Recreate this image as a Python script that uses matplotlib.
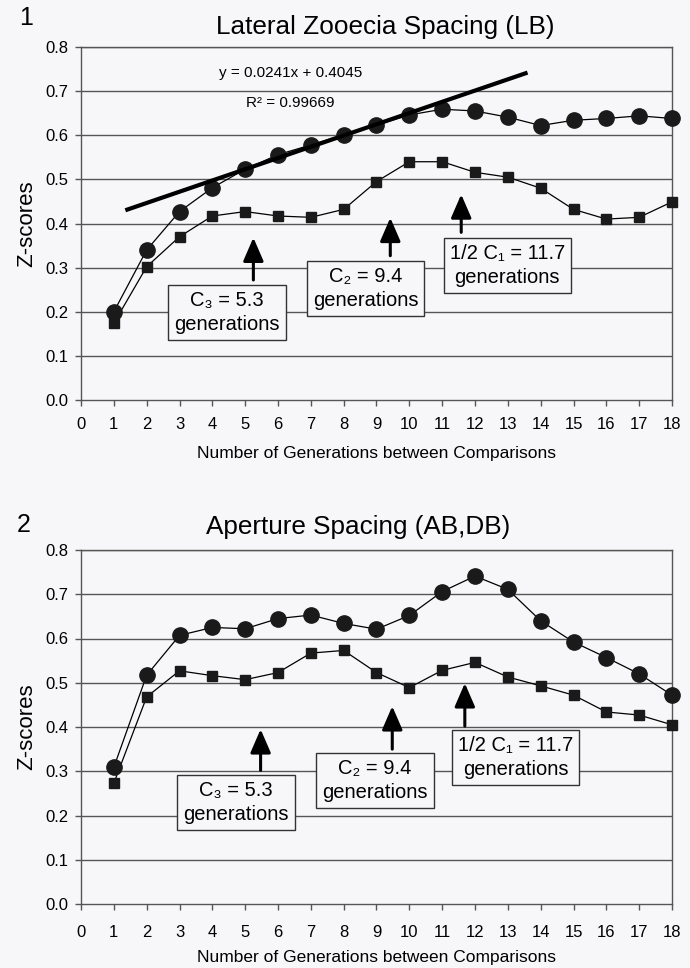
import matplotlib
matplotlib.use("Agg")
import matplotlib.pyplot as plt
from matplotlib.ticker import FixedLocator, FormatStrFormatter

plt.rcParams['font.family'] = ['Liberation Sans', 'DejaVu Sans']

generations = list(range(1, 19))
x_ticks = list(range(0, 19))
y_ticks = [0.0, 0.1, 0.2, 0.3, 0.4, 0.5, 0.6, 0.7, 0.8]

# Panel 1: Lateral Zooecia Spacing (LB)
lb_circles = [0.200, 0.340, 0.427, 0.481, 0.523, 0.556, 0.578, 0.601, 0.623,
              0.646, 0.659, 0.655, 0.641, 0.622, 0.634, 0.638, 0.644, 0.638]
lb_squares = [0.174, 0.302, 0.370, 0.417, 0.427, 0.417, 0.414, 0.432, 0.495,
              0.540, 0.540, 0.516, 0.505, 0.480, 0.432, 0.410, 0.414, 0.449]
trend_x = [1.35, 13.6]
trend_y = [0.430, 0.742]
trend_eq = "y = 0.0241x + 0.4045"
trend_r2 = "R² = 0.99669"

# Panel 2: Aperture Spacing (AB,DB)
ap_circles = [0.309, 0.517, 0.607, 0.625, 0.622, 0.645, 0.653, 0.634, 0.621,
              0.652, 0.706, 0.741, 0.711, 0.640, 0.592, 0.557, 0.520, 0.472]
ap_squares = [0.273, 0.468, 0.527, 0.516, 0.507, 0.523, 0.567, 0.573, 0.523,
              0.489, 0.528, 0.546, 0.513, 0.493, 0.472, 0.434, 0.427, 0.405]

box_texts = ["C\u2083 = 5.3\ngenerations", "C\u2082 = 9.4\ngenerations",
             "1/2 C\u2081 = 11.7\ngenerations"]

# annotation placements: (box_x, box_y, arrow_x, arrow_base_y, arrow_tip_y)
p1_notes = [(4.45, 0.198, 5.25, 0.272, 0.368),
            (8.67, 0.252, 9.42, 0.327, 0.413),
            (12.98, 0.305, 11.58, 0.380, 0.466)]
p2_notes = [(4.72, 0.230, 5.47, 0.302, 0.395),
            (8.95, 0.279, 9.48, 0.350, 0.447),
            (13.24, 0.331, 11.69, 0.402, 0.499)]

fig = plt.figure(figsize=(6.9, 9.68), dpi=100)
bg = '#f7f7f9'
fig.patch.set_facecolor(bg)

ax1 = fig.add_axes([81/690, 1-400/968, 591/690, 353/968])
ax2 = fig.add_axes([81/690, 1-904/968, 591/690, 354/968])

grid_c = '#555555'

def panel(ax, circ, sq, notes, xpad, lpad):
    ax.set_facecolor(bg)
    ax.set_xlim(0, 18)
    ax.set_ylim(0, 0.8)
    for yv in y_ticks[1:]:
        ax.axhline(yv, color=grid_c, lw=1.0, zorder=1)
    ax.plot(generations, sq, color='black', lw=0.9, marker='s', ms=7.3,
            mfc='#1a1a1a', mec='#1a1a1a', zorder=3, clip_on=False)
    ax.plot(generations, circ, color='black', lw=0.9, marker='o', ms=11,
            mfc='#1a1a1a', mec='#1a1a1a', zorder=4, clip_on=False)
    ax.xaxis.set_major_locator(FixedLocator(x_ticks))
    ax.yaxis.set_major_locator(FixedLocator(y_ticks))
    ax.yaxis.set_major_formatter(FormatStrFormatter('%.1f'))
    ax.tick_params(axis='both', direction='out', length=4, width=1,
                   color=grid_c, labelsize=12, pad=5)
    ax.tick_params(axis='x', pad=xpad)
    for s in ax.spines.values():
        s.set_color(grid_c)
        s.set_linewidth(1.0)
    ax.set_ylabel('Z-scores', fontsize=16, labelpad=6)
    ax.set_xlabel('Number of Generations between Comparisons', fontsize=12.5,
                  labelpad=lpad)
    for (bx, by, axx, base, tip), txt in zip(notes, box_texts):
        ax.annotate('', xy=(axx, tip), xytext=(axx, base),
                    arrowprops=dict(arrowstyle='-|>,head_length=0.6,head_width=0.26',
                                    color='black', lw=2.2,
                                    mutation_scale=24, shrinkA=0, shrinkB=0),
                    zorder=5)
        ax.text(bx, by, txt, ha='center', va='center', fontsize=14.5,
                linespacing=1.35, zorder=6,
                bbox=dict(boxstyle='square,pad=0.3', fc=bg, ec='#333333', lw=1))

panel(ax1, lb_circles, lb_squares, p1_notes, 8, 10)
panel(ax2, ap_circles, ap_squares, p2_notes, 11, 7)

ax1.plot(trend_x, trend_y, color='black', lw=3, zorder=5, solid_capstyle='butt')
ax1.text(6.37, 0.741, trend_eq, ha='center', va='center', fontsize=11)
ax1.text(6.37, 0.673, trend_r2, ha='center', va='center', fontsize=11)

fig.text(385/690, 1-27/968, 'Lateral Zooecia Spacing (LB)', ha='center',
         va='center', fontsize=18.8)
fig.text(26/690, 1-18/968, '1', ha='center', va='center', fontsize=18)
fig.text(358/690, 1-527/968, 'Aperture Spacing (AB,DB)', ha='center',
         va='center', fontsize=18.8)
fig.text(24/690, 1-525/968, '2', ha='center', va='center', fontsize=18)

fig.savefig('out.png', dpi=100, facecolor=bg)
